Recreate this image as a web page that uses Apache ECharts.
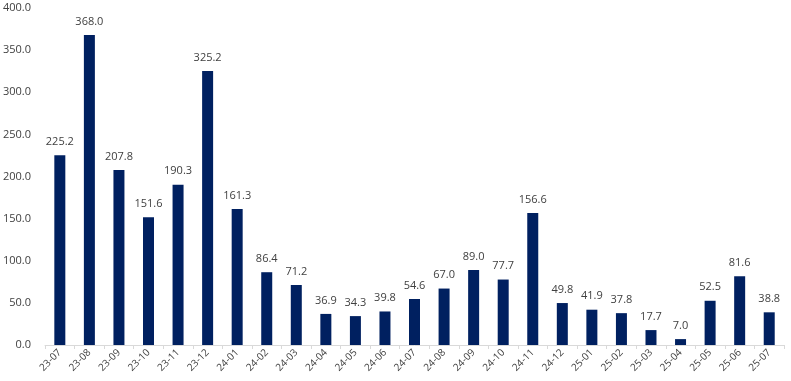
<!DOCTYPE html>
<html><head><meta charset="utf-8">
<script src="https://cdn.jsdelivr.net/npm/echarts@6/dist/echarts.min.js"></script>
<style>html,body{margin:0;padding:0;background:#fff}#c{width:791px;height:381px}</style>
</head><body><div id="c"></div>
<script>
const categories = ['23-07','23-08','23-09','23-10','23-11','23-12','24-01','24-02','24-03','24-04','24-05','24-06','24-07','24-08','24-09','24-10','24-11','24-12','25-01','25-02','25-03','25-04','25-05','25-06','25-07'];
const values = [225.2,368.0,207.8,151.6,190.3,325.2,161.3,86.4,71.2,36.9,34.3,39.8,54.6,67.0,89.0,77.7,156.6,49.8,41.9,37.8,17.7,7.0,52.5,81.6,38.8];
const yTicks = [0,50,100,150,200,250,300,350,400];

const chart = echarts.init(document.getElementById('c'));
const font = '"Open Sans", "DejaVu Sans", sans-serif';
chart.setOption({
  animation:false,
  grid:{left:44,right:7,top:8,bottom:36,containLabel:false},
  xAxis:{type:'category',data:categories,
    axisLine:{lineStyle:{color:'#d9d9d9'}},
    axisTick:{show:true,alignWithLabel:false,length:4,lineStyle:{color:'#d9d9d9'}},
    axisLabel:{rotate:45,color:'#404040',fontSize:10,fontFamily:font,margin:6,interval:0}},
  yAxis:{type:'value',min:yTicks[0],max:yTicks[yTicks.length-1],interval:50,
    splitLine:{show:false},axisLine:{show:false},axisTick:{show:false},
    axisLabel:{color:'#404040',fontSize:11,fontFamily:font,margin:14,formatter:v=>v.toFixed(1)}},
  series:[{type:'bar',data:values,barWidth:11,
    itemStyle:{color:'#002060'},
    label:{show:true,position:'top',distance:8,color:'#404040',fontSize:11,fontFamily:font,formatter:p=>p.value.toFixed(1)}}]
});
</script></body></html>
